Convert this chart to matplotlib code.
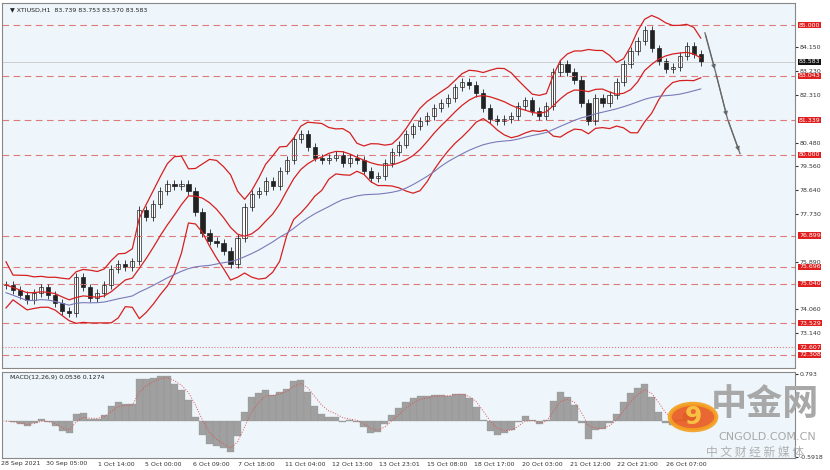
import numpy as np
import pandas as pd
import matplotlib
matplotlib.use("Agg")
import matplotlib.pyplot as plt
from matplotlib.patches import Circle

plt.rcParams['font.family'] = ['DejaVu Sans', 'Noto Sans CJK SC']

# closes (one value per ~5 H1 bars)
closes = [75.0, 74.8, 74.6, 74.4, 74.7, 74.9, 74.6, 74.3, 74.0, 73.9,
          75.3, 74.9, 74.5, 74.7, 75.0, 75.6, 75.8, 75.7, 75.9, 77.9,
          77.6, 78.1, 78.6, 78.9, 78.8, 78.9, 78.6, 77.8, 77.0, 76.7,
          76.6, 76.3, 75.8, 76.8, 78.0, 78.5, 78.6, 79.0, 78.8, 79.4,
          79.8, 80.6, 80.8, 80.3, 79.9, 79.8, 79.9, 80.0, 79.7, 79.9,
          79.8, 79.4, 79.1, 79.2, 79.7, 80.1, 80.4, 80.8, 81.1, 81.3,
          81.5, 81.8, 82.0, 82.2, 82.6, 82.8, 82.7, 82.4, 81.8, 81.4,
          81.3, 81.4, 81.5, 81.9, 82.1, 81.7, 81.5, 81.9, 83.2, 83.5,
          83.2, 82.9, 82.0, 81.3, 82.2, 82.0, 82.3, 82.8, 83.5, 84.0,
          84.4, 84.8, 84.1, 83.6, 83.3, 83.4, 83.8, 84.2, 83.9, 83.583]

levels = [85.000, 83.043, 81.339, 80.000, 76.899, 75.696, 75.040, 73.529, 72.308]
dotted_level = 72.607
grey_ticks = [84.150, 83.230, 82.310, 80.480, 79.560, 78.640, 77.730, 75.890, 74.060, 73.140]
last_price = 83.583
date_labels = ["28 Sep 2021", "30 Sep 05:00", "1 Oct 14:00", "5 Oct 00:00", "6 Oct 09:00",
               "7 Oct 18:00", "11 Oct 04:00", "12 Oct 13:00", "13 Oct 23:01", "15 Oct 08:00",
               "18 Oct 17:00", "20 Oct 03:00", "21 Oct 12:00", "22 Oct 21:00", "26 Oct 07:00"]
date_pos = [2.1, 8.6, 15.7, 22.4, 29.3, 35.7, 42.6, 49.3, 56.1, 62.9, 69.6, 76.4, 83.3, 90.0, 96.9]
arrow_x = [99.6, 101.1, 102.8, 104.6]
arrow_y = [84.7, 83.2, 81.4, 80.05]

bg = '#eef6fb'
red_line = '#e07a7a'
c = pd.Series(closes)
o = c.shift(1).fillna(c.iloc[0])
hi = np.maximum(o, c) + 0.15
lo = np.minimum(o, c) - 0.15
x = np.arange(len(c))

mid = c.rolling(8, min_periods=1).mean()
sd = c.rolling(8, min_periods=1).std().fillna(0.4)
up = mid + 1.6 * sd + 0.25
dn = mid - 1.6 * sd - 0.25
slow = c.rolling(30, min_periods=1).mean() - 0.3

macd = c.ewm(span=3).mean() - c.ewm(span=7).mean()
sig = macd.ewm(span=3).mean()

W = 793 / 830
fig = plt.figure(figsize=(8.3, 4.7), dpi=100)
fig.patch.set_facecolor('white')
ax = fig.add_axes([0.003, 1 - 368 / 470, W, 365 / 470])
ax2 = fig.add_axes([0.003, 12 / 470, W, 86 / 470])
xmax = 112.5
for a in (ax, ax2):
    a.set_facecolor(bg)
    a.set_xlim(-0.5, xmax)
    a.set_xticks([])
    for s in a.spines.values():
        s.set_color('#888888')
    a.yaxis.tick_right()
    a.tick_params(axis='y', labelsize=4.5, length=2, colors='#333333', pad=1)

ax.set_ylim(71.8, 85.85)
box = dict(boxstyle='square,pad=0.12', fc='#e02020', ec='none')
for lv in levels:
    ax.axhline(lv, color=red_line, lw=0.8, ls=(0, (6, 4)))
    ax.text(xmax + 0.5, lv, f"{lv:.3f}", fontsize=4.5, color='white', va='center', ha='left',
            bbox=box, clip_on=False)
ax.axhline(dotted_level, color=red_line, lw=0.8, ls=':')
ax.text(xmax + 0.5, dotted_level, f"{dotted_level:.3f}", fontsize=4.5, color='white', va='center',
        bbox=box, clip_on=False)
ax.axhline(last_price, color='#c8c8c8', lw=0.6)
ax.text(xmax + 0.5, last_price, f"{last_price:.3f}", fontsize=4.5, color='white', va='center',
        bbox=dict(boxstyle='square,pad=0.12', fc='#111111', ec='none'), clip_on=False)
ax.set_yticks(grey_ticks)
ax.set_yticklabels([f"{t:.3f}" for t in grey_ticks])

ax.vlines(x, lo, hi, color='#222222', lw=0.6)
body_lo = np.minimum(o, c)
body_h = np.maximum(np.abs(c - o), 0.03)
cols = ['white' if cc >= oo else '#222222' for cc, oo in zip(c, o)]
ax.bar(x, body_h, bottom=body_lo, width=0.6, color=cols, edgecolor='#222222', lw=0.5)

ax.plot(x, up, color='#d62020', lw=0.9)
ax.plot(x, mid, color='#d62020', lw=0.9)
ax.plot(x, dn, color='#d62020', lw=0.9)
ax.plot(x, slow, color='#7a7ab8', lw=0.8)

ax.plot(arrow_x, arrow_y, color='#777777', lw=1)
for i in range(1, len(arrow_x)):
    ax.annotate('', xy=(arrow_x[i], arrow_y[i]), xytext=(arrow_x[i - 1], arrow_y[i - 1]),
                arrowprops=dict(arrowstyle='-|>', color='#666666', lw=0.8, mutation_scale=6))

ax.text(0.5, 85.7, "▼ XTIUSD,H1  83.739 83.753 83.570 83.583", fontsize=4.5, va='top', color='#222222')

lim = max(macd.abs().max(), 0.1) * 1.08
ax2.set_ylim(-lim * 0.75, lim)
ax2.bar(x, macd, width=1.0, color='#a0a0a0', edgecolor='#909090', lw=0.2)
ax2.plot(x, sig, color='#e05050', lw=0.7, ls=':')
ax2.set_yticks([lim * 0.95, -lim * 0.72])
ax2.set_yticklabels(["0.793", "-0.5918"])
ax2.text(0.5, lim * 0.93, "MACD(12,26,9) 0.0536 0.1274", fontsize=4.5, va='top', color='#222222')

for lab, p in zip(date_labels, date_pos):
    fig.text(0.003 + W * (p + 0.5) / (xmax + 0.5), 6 / 470, lab, fontsize=4.5,
             ha='center', va='center', color='#333333')

# watermark
fig.patches.append(Circle((693 / 830, 1 - 417 / 470), 0.028, transform=fig.transFigure,
                          fc='#e8581c', ec='#f4a020', lw=3, alpha=0.9))
fig.text(693 / 830, 1 - 417 / 470, "9", fontsize=18, color='#f8c040', ha='center', va='center',
         fontweight='bold')
fig.text(765 / 830, 1 - 405 / 470, "中金网", fontsize=26, color='#a8a8a8', ha='center', va='center',
         family=['Noto Sans CJK SC'], fontweight='bold')
fig.text(767 / 830, 1 - 437 / 470, "CNGOLD.COM.CN", fontsize=8, color='#a8a8a8', ha='center',
         va='center')
fig.text(755 / 830, 1 - 452 / 470, "中 文 财 经 新 媒 体", fontsize=8.5, color='#b0b0b0',
         ha='center', va='center', family=['Noto Sans CJK SC'])

fig.savefig('out.png', dpi=100, facecolor=fig.get_facecolor())
